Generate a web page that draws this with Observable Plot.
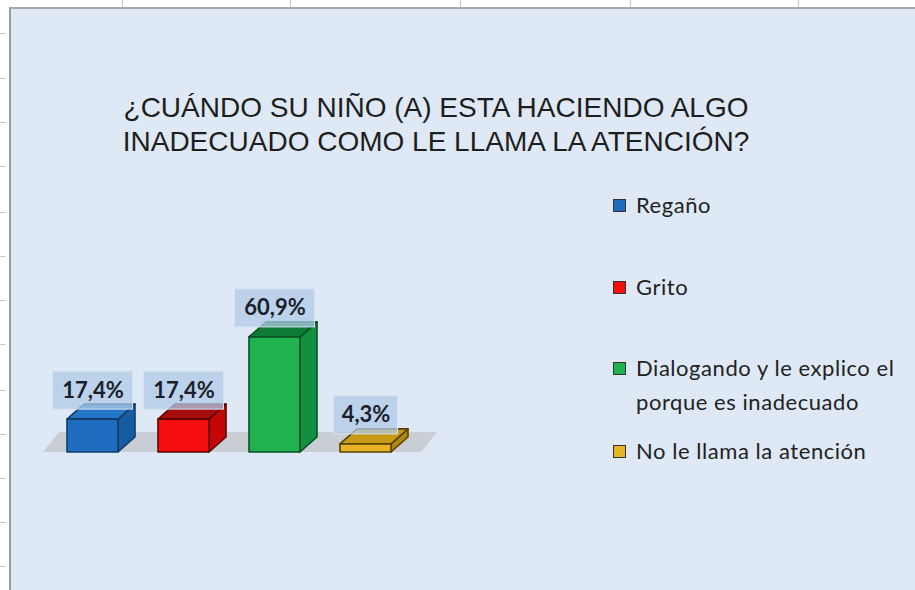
<!DOCTYPE html>
<html>
<head>
<meta charset="utf-8">
<script src="https://cdn.jsdelivr.net/npm/d3@7"></script>
<script src="https://cdn.jsdelivr.net/npm/@observablehq/plot@0.6"></script>
<style>
  html, body { margin: 0; padding: 0; }
  body { width: 915px; height: 590px; overflow: hidden; background: #ffffff; position: relative; }
  #panel { position: absolute; left: 9px; top: 7px; width: 906px; height: 583px; background: #dee9f5;
           border-left: 2px solid #9c9c9c; border-top: 2px solid #a8a8a8; box-sizing: border-box; }
  .gridv { position: absolute; top: 0; width: 1px; height: 7px; background: #c8c8c8; }
  .gridh { position: absolute; left: 0; width: 6px; height: 1px; background: #c8c8c8; }
  #title { position: absolute; left: 0; width: 872px; top: 91px; text-align: center;
           font-family: "Liberation Sans", Arial, sans-serif; font-size: 28px; line-height: 34px; color: #1e1e1e; }
  #chart { position: absolute; left: 0; top: 0; }
  #legend { position: absolute; left: 0; top: 0; font-family: Lato, "Open Sans", sans-serif; font-size: 22px;
            letter-spacing: 0.55px; color: #222; }
  .item { position: absolute; left: 636px; line-height: 34px; white-space: nowrap; }
  .sw { position: absolute; width: 11px; height: 11px; border: 1px solid #333; }
</style>
</head>
<body>
<div id="panel"></div>
<div id="title">¿CUÁNDO SU NIÑO (A) ESTA HACIENDO ALGO<br>INADECUADO COMO LE LLAMA LA ATENCIÓN?</div>
<div id="chart"></div>
<div id="legend"></div>
<script>
// ---- data ----
const categories = ["Regaño", "Grito", "Dialogando y le explico el porque es inadecuado", "No le llama la atención"];
const values = [17.4, 17.4, 60.9, 4.3];
const legendLines = [["Regaño"], ["Grito"], ["Dialogando y le explico el", "porque es inadecuado"], ["No le llama la atención"]];
const frontColors = ["#1d6cc0", "#f70f0f", "#1fb24f", "#e5b325"];
const topColors   = ["#2476c6", "#a80d0d", "#0c7c37", "#c79a16"];
const sideColors  = ["#155ca3", "#c40606", "#119040", "#ad870f"];
const edgeColors  = ["#123d6b", "#5a0505", "#0b4f26", "#5a4300"];

const data = categories.map((c, i) => ({
  cat: c, value: values[i], label: values[i].toFixed(1).replace(".", ",") + "%", i
}));

// spreadsheet grid remnants
[122, 290, 460, 630, 798].forEach(x => {
  const d = document.createElement("div"); d.className = "gridv"; d.style.left = x + "px"; document.body.appendChild(d);
});
[33, 78, 122, 166, 212, 256, 300, 344, 390, 434, 478, 522, 566].forEach(y => {
  const d = document.createElement("div"); d.className = "gridh"; d.style.top = y + "px"; document.body.appendChild(d);
});

const PAD = 0.44;
const DX = 17, DY = 15;
const svgNS = "http://www.w3.org/2000/svg";
function poly(points, fill, stroke) {
  const p = document.createElementNS(svgNS, "polygon");
  p.setAttribute("points", points.map(d => d.join(",")).join(" "));
  p.setAttribute("fill", fill);
  if (stroke) { p.setAttribute("stroke", stroke); p.setAttribute("stroke-width", 1.6); p.setAttribute("stroke-linejoin", "round"); }
  return p;
}
function bandwidthOf(scales) {
  const b = scales.x.bandwidth;
  if (typeof b === "number" && isFinite(b)) return b;
  if (typeof b === "function") return b();
  const xs = categories.map(c => scales.x(c));
  return (xs[1] - xs[0]) * (1 - PAD);
}
function xLeft(scales, i) { return scales.x(data[i].cat); }

const plot = Plot.plot({
  width: 915,
  height: 590,
  style: { background: "transparent", overflow: "visible" },
  x: { type: "band", domain: categories, range: [66, 391], paddingInner: PAD, paddingOuter: 0, axis: null },
  y: { domain: [0, 100], range: [452, 263], axis: null },
  marks: [
    // floor
    Plot.barY(data, {
      x: "cat", y: "value",
      render(index, scales) {
        const g = document.createElementNS(svgNS, "g");
        const bw = bandwidthOf(scales);
        const x0 = d3.min(index, i => xLeft(scales, i));
        const x1 = d3.max(index, i => xLeft(scales, i)) + bw;
        const y0 = scales.y(0);
        g.appendChild(poly([[x0 - 24, y0], [x0 - 8, y0 - 20], [x1 + 46, y0 - 20], [x1 + 30, y0]], "#c9ced5"));
        return g;
      }
    }),
    // 3D bars
    Plot.barY(data, {
      x: "cat", y: "value",
      render(index, scales) {
        const g = document.createElementNS(svgNS, "g");
        const bw = bandwidthOf(scales);
        for (const i of index) {
          const xl = xLeft(scales, i), xr = xl + bw;
          const top = scales.y(data[i].value), bot = scales.y(0);
          g.appendChild(poly([[xr, top], [xr + DX, top - DY], [xr + DX, bot - DY], [xr, bot]], sideColors[i], edgeColors[i]));
          g.appendChild(poly([[xl, top], [xl + DX, top - DY], [xr + DX, top - DY], [xr, top]], topColors[i], edgeColors[i]));
          g.appendChild(poly([[xl, top], [xr, top], [xr, bot], [xl, bot]], frontColors[i], edgeColors[i]));
        }
        return g;
      }
    }),
    // label boxes
    Plot.barY(data, {
      x: "cat", y: "value",
      render(index, scales) {
        const g = document.createElementNS(svgNS, "g");
        const bw = bandwidthOf(scales);
        for (const i of index) {
          const cx = xLeft(scales, i) + bw / 2;
          const top = scales.y(data[i].value);
          const w = data[i].label.length * 16;
          const r = document.createElementNS(svgNS, "rect");
          r.setAttribute("x", cx - w / 2); r.setAttribute("y", top - 48);
          r.setAttribute("width", w); r.setAttribute("height", 38);
          r.setAttribute("fill", "#afc9e6"); r.setAttribute("fill-opacity", 0.75);
          r.setAttribute("stroke", "#d4e2f1"); r.setAttribute("stroke-width", 1);
          g.appendChild(r);
        }
        return g;
      }
    }),
    Plot.text(data, {
      x: "cat", y: "value", text: "label", dy: -29,
      fontFamily: "Lato, 'Open Sans', sans-serif", fontWeight: "bold", fontSize: 22, fill: "#1b1f2a"
    })
  ]
});
document.getElementById("chart").appendChild(plot);

// legend
const legend = document.getElementById("legend");
const legendTops = [188, 270, 351, 434];
legendLines.forEach((lines, i) => {
  const sw = document.createElement("div");
  sw.className = "sw";
  sw.style.left = "613px";
  sw.style.top = (legendTops[i] + 11) + "px";
  sw.style.background = frontColors[i];
  legend.appendChild(sw);
  const it = document.createElement("div");
  it.className = "item";
  it.style.top = legendTops[i] + "px";
  it.innerHTML = lines.join("<br>");
  legend.appendChild(it);
});
</script>
</body>
</html>
